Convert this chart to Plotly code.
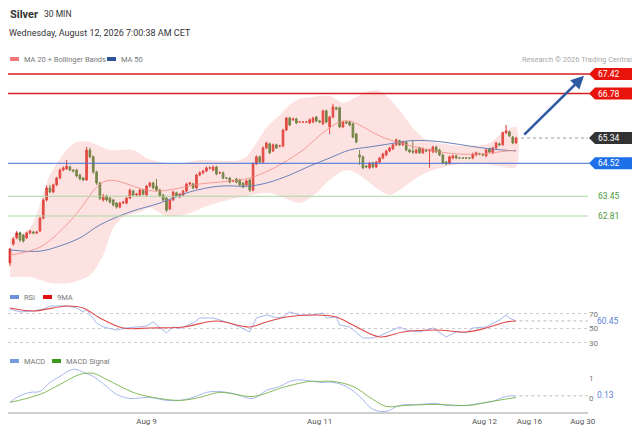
import plotly.graph_objects as go

# ---- Silver 30 MIN candles (x = bar number) ----
opens = [61.29, 61.90, 62.10, 62.26, 62.19, 62.10, 62.26, 62.29, 62.26, 62.32,
         62.74, 63.33, 63.72, 63.59, 63.82, 64.04, 64.30, 64.34, 64.40, 64.30,
         64.30, 64.14, 64.04, 63.98, 64.95, 64.73, 64.24, 63.88, 63.33, 63.46,
         63.39, 63.33, 63.23, 63.10, 63.23, 63.23, 63.39, 63.62, 63.49, 63.49,
         63.65, 63.49, 63.78, 63.88, 63.78, 63.65, 63.49, 63.39, 63.04, 63.33,
         63.56, 63.43, 63.49, 63.62, 63.85, 63.85, 63.72, 64.14, 64.21, 64.27,
         64.37, 64.30, 64.40, 64.21, 64.21, 64.04, 64.04, 63.95, 64.01, 63.98,
         63.88, 63.82, 63.98, 63.65, 64.50, 64.73, 64.56, 65.02, 65.15, 64.92,
         65.12, 65.08, 65.08, 65.60, 65.99, 65.93, 65.96, 65.86, 65.86, 65.86,
         65.83, 65.86, 66.02, 65.89, 65.80, 66.22, 65.70, 66.02, 66.32, 66.32,
         65.70, 65.86, 65.86, 65.80, 65.47, 64.79, 64.73, 64.43, 64.37, 64.53,
         64.40, 64.56, 64.69, 64.79, 64.92, 64.99, 65.12, 65.25, 65.12, 65.21,
         64.95, 64.92, 64.86, 65.02, 64.86, 64.95, 64.92, 64.89, 65.05, 64.95,
         64.79, 64.56, 64.53, 64.69, 64.76, 64.69, 64.69, 64.69, 64.69, 64.69,
         64.79, 64.82, 64.79, 64.76, 64.99, 64.86, 65.02, 65.15, 65.12, 65.51,
         65.54, 65.37, 65.18]
highs = [61.77, 62.12, 62.32, 62.30, 62.22, 62.30, 62.36, 62.33, 62.32, 62.78,
         63.38, 63.80, 63.82, 63.86, 64.08, 64.35, 64.42, 64.63, 64.45, 64.33,
         64.34, 64.18, 64.08, 65.05, 65.02, 64.78, 64.28, 63.92, 63.52, 63.50,
         63.43, 63.37, 63.26, 63.27, 63.30, 63.44, 63.70, 63.66, 63.56, 63.70,
         63.69, 63.82, 63.92, 63.92, 64.01, 63.70, 63.53, 63.43, 63.37, 63.63,
         63.60, 63.56, 63.66, 63.89, 63.92, 63.89, 64.18, 64.26, 64.31, 64.42,
         64.42, 64.45, 64.44, 64.26, 64.25, 64.08, 64.08, 63.99, 64.05, 64.02,
         63.92, 63.99, 64.02, 64.55, 64.78, 64.77, 65.07, 65.22, 65.19, 65.16,
         65.16, 65.12, 65.64, 66.03, 66.03, 66.00, 66.00, 65.88, 65.88, 65.88,
         65.97, 66.03, 66.06, 65.93, 66.26, 66.26, 66.06, 66.45, 66.36, 66.36,
         65.90, 65.90, 65.90, 65.84, 65.51, 64.95, 64.77, 64.47, 64.57, 64.57,
         64.60, 64.73, 64.86, 64.96, 65.06, 65.16, 65.32, 65.29, 65.25, 65.25,
         64.99, 65.28, 64.99, 65.06, 65.03, 64.99, 64.99, 65.09, 65.09, 64.99,
         64.83, 64.60, 64.77, 64.80, 64.80, 64.72, 64.72, 64.72, 64.72, 64.86,
         64.90, 64.86, 64.83, 64.99, 65.03, 65.06, 65.22, 65.19, 65.55, 65.76,
         65.58, 65.41, 65.38]
lows = [61.19, 61.85, 62.06, 61.97, 61.95, 62.06, 62.22, 62.22, 62.22, 62.28,
        62.70, 63.28, 63.55, 63.55, 63.78, 64.00, 64.26, 64.30, 64.26, 64.22,
        64.06, 63.97, 63.94, 63.95, 64.68, 64.18, 63.82, 63.33, 63.28, 63.28,
        63.22, 63.12, 63.05, 63.06, 63.20, 63.19, 63.35, 63.45, 63.45, 63.45,
        63.48, 63.45, 63.74, 63.68, 63.60, 63.42, 63.29, 62.94, 63.00, 63.29,
        63.42, 63.39, 63.45, 63.58, 63.81, 63.68, 63.68, 64.10, 64.17, 64.23,
        64.32, 64.26, 64.13, 64.17, 64.00, 64.00, 63.87, 63.91, 63.87, 63.78,
        63.71, 63.78, 63.59, 63.61, 64.46, 64.52, 64.52, 64.98, 64.82, 64.88,
        64.98, 65.04, 65.04, 65.56, 65.72, 65.89, 65.79, 65.84, 65.84, 65.84,
        65.79, 65.82, 65.85, 65.82, 65.76, 65.82, 65.47, 65.98, 66.24, 65.66,
        65.66, 65.79, 65.72, 65.33, 65.17, 64.47, 64.33, 64.36, 64.33, 64.36,
        64.36, 64.52, 64.65, 64.75, 64.88, 64.95, 65.08, 65.08, 65.08, 64.91,
        64.85, 64.82, 64.82, 64.82, 64.82, 64.88, 64.37, 64.85, 64.85, 64.75,
        64.49, 64.46, 64.49, 64.65, 64.65, 64.66, 64.66, 64.66, 64.66, 64.65,
        64.75, 64.78, 64.75, 64.72, 64.85, 64.82, 64.98, 65.08, 65.08, 65.47,
        65.37, 65.14, 65.14]
closes = [61.74, 62.06, 62.26, 62.03, 62.00, 62.26, 62.32, 62.26, 62.29, 62.74,
          63.33, 63.72, 63.59, 63.82, 64.04, 64.30, 64.37, 64.43, 64.30, 64.27,
          64.11, 64.01, 63.98, 64.95, 64.73, 64.24, 63.88, 63.39, 63.46, 63.33,
          63.26, 63.17, 63.10, 63.23, 63.26, 63.39, 63.65, 63.49, 63.52, 63.65,
          63.52, 63.78, 63.88, 63.72, 63.65, 63.46, 63.33, 63.00, 63.33, 63.59,
          63.46, 63.52, 63.62, 63.85, 63.88, 63.72, 64.14, 64.21, 64.27, 64.37,
          64.37, 64.40, 64.17, 64.21, 64.04, 64.04, 63.91, 63.95, 63.91, 63.82,
          63.75, 63.95, 63.65, 64.50, 64.73, 64.56, 65.02, 65.18, 64.86, 65.12,
          65.02, 65.08, 65.60, 65.99, 65.76, 65.96, 65.83, 65.86, 65.86, 65.86,
          65.93, 65.99, 65.89, 65.86, 66.22, 65.86, 66.02, 66.35, 66.28, 65.70,
          65.86, 65.83, 65.76, 65.37, 65.21, 64.73, 64.37, 64.40, 64.53, 64.40,
          64.56, 64.69, 64.82, 64.92, 65.02, 65.12, 65.28, 65.12, 65.21, 64.95,
          64.89, 64.89, 64.95, 64.86, 64.99, 64.92, 64.95, 65.05, 64.89, 64.79,
          64.53, 64.50, 64.73, 64.76, 64.69, 64.69, 64.69, 64.69, 64.69, 64.82,
          64.86, 64.82, 64.79, 64.95, 64.89, 65.02, 65.18, 65.12, 65.51, 65.57,
          65.41, 65.18, 65.34]
bars = list(range(len(closes)))

# ---- MA 20 / MA 50 / Bollinger bands (read at sample bars) ----
ma20_idx = [0, 9, 17, 22, 26, 29, 32, 37, 41, 45, 51, 57, 63, 69, 72, 78, 82, 88,
            94, 99, 102, 105, 111, 117, 123, 129, 135, 141, 147, 152]
ma20 = [61.54, 61.80, 62.52, 63.17, 63.75, 63.95, 63.95, 63.78, 63.65, 63.62,
        63.72, 63.85, 63.91, 63.98, 64.04, 64.30, 64.53, 64.95, 65.51, 65.86,
        65.89, 65.76, 65.41, 65.18, 65.02, 64.89, 64.82, 64.82, 64.89, 64.95]
ma50_idx = [0, 9, 15, 21, 27, 36, 45, 54, 63, 72, 78, 84, 90, 96, 102, 108, 114,
            120, 126, 132, 138, 144, 152]
ma50 = [61.71, 61.67, 61.84, 62.10, 62.52, 62.94, 63.23, 63.59, 63.78, 63.78,
        63.91, 64.14, 64.43, 64.69, 64.95, 65.05, 65.15, 65.25, 65.25, 65.18,
        65.08, 64.99, 64.92]
bb_up_idx = [0, 6, 12, 17, 20, 24, 30, 37, 41, 45, 50, 57, 63, 68, 71, 74, 77, 81,
             84, 87, 91, 96, 100, 104, 107, 111, 117, 121, 125, 132, 138, 144, 148, 152]
bb_up = [62.10, 62.42, 64.14, 64.95, 65.21, 65.21, 64.95, 64.95, 64.69, 64.56,
         64.50, 64.63, 64.60, 64.60, 64.73, 65.18, 65.67, 66.09, 66.41, 66.61,
         66.67, 66.71, 66.48, 66.67, 66.84, 66.87, 66.25, 65.67, 65.28, 65.12,
         65.08, 65.18, 65.51, 65.70]
bb_lo_idx = [0, 6, 12, 18, 24, 28, 31, 34, 39, 42, 47, 53, 59, 63, 71, 78, 84, 87,
             91, 96, 101, 105, 110, 114, 117, 122, 127, 132, 138, 144, 148, 152]
bb_lo = [60.83, 60.83, 60.64, 60.64, 60.89, 61.54, 62.42, 62.78, 62.94, 63.07,
         62.81, 62.87, 63.13, 63.26, 63.46, 63.56, 63.33, 63.23, 63.46, 63.98,
         64.30, 64.14, 63.72, 63.49, 63.65, 64.04, 64.30, 64.43, 64.53, 64.47,
         64.40, 64.40]

# ---- key levels ----
resistances = [67.42, 66.78]
pivot = 64.52
supports = [63.45, 62.81]
last_price = 65.34

# ---- RSI and its 9MA ----
rsi_idx = [0, 3, 7, 10, 12, 17, 20, 22, 23, 26, 28, 32, 35, 39, 41, 43, 45, 47, 49,
           51, 55, 57, 61, 65, 69, 72, 74, 77, 80, 82, 84, 87, 91, 93, 94, 95, 98,
           99, 102, 106, 109, 111, 113, 117, 119, 123, 127, 131, 134, 137, 139, 143,
           147, 149, 150, 152]
rsi = [76.9, 72.8, 74.1, 76.9, 81.0, 81.0, 78.3, 72.8, 76.0, 57.6, 52.1, 47.9, 50.7,
       52.1, 53.4, 59.0, 50.7, 43.8, 52.1, 50.0, 57.6, 64.5, 64.5, 59.0, 52.1, 45.2,
       64.5, 68.6, 65.0, 65.9, 72.8, 68.6, 68.6, 70.0, 71.4, 64.5, 65.9, 54.8, 52.1,
       36.9, 36.9, 39.7, 43.8, 52.1, 47.9, 45.2, 50.7, 38.3, 45.2, 44.0, 50.7, 52.1,
       61.7, 68.6, 64.5, 60.45]
rsi_ma_idx = [0, 7, 17, 22, 27, 34, 42, 52, 62, 72, 77, 83, 92, 98, 103, 111, 118,
              128, 137, 143, 149, 152]
rsi_ma = [78.3, 74.1, 81.0, 78.3, 64.5, 50.7, 50.7, 52.1, 60.3, 52.1, 59.0, 65.9,
          68.6, 65.9, 54.8, 38.3, 45.2, 47.9, 45.2, 50.7, 59.0, 60.3]

# ---- MACD and signal ----
macd_idx = [0, 2, 6, 9, 12, 15, 18, 20, 22, 25, 29, 32, 36, 42, 47, 51, 55, 59, 62,
            67, 73, 77, 81, 85, 89, 93, 97, 101, 105, 109, 113, 117, 123, 128, 131,
            137, 141, 145, 149, 152]
macd = [-0.20, 0.05, 0.30, 0.35, 0.80, 1.10, 1.40, 1.45, 1.30, 1.10, 0.60, 0.20,
        0.00, 0.05, -0.10, -0.10, 0.05, 0.30, 0.35, 0.25, 0.00, 0.40, 0.60, 0.90,
        0.90, 0.80, 0.80, 0.60, 0.10, -0.55, -0.65, -0.35, -0.30, -0.25, -0.35,
        -0.35, -0.25, -0.15, 0.10, 0.13]
signal_idx = [0, 9, 15, 21, 25, 29, 37, 43, 51, 57, 63, 73, 82, 90, 93, 97, 103,
              109, 113, 119, 128, 138, 143, 152]
signal = [-0.20, 0.20, 0.70, 1.20, 1.25, 0.95, 0.30, 0.05, -0.10, 0.05, 0.30, 0.10,
          0.55, 0.85, 0.85, 0.85, 0.60, -0.05, -0.40, -0.35, -0.30, -0.35, -0.20, 0.05]

tick_idx = [41, 93, 142.5, 156, 172]
tick_text = ['Aug 9', 'Aug 11', 'Aug 12', 'Aug 16', 'Aug 30']

FONT = 'Roboto'
RED = '#d9261c'
GREEN = '#3d7a22'

# page has an 8px body margin; plot area spans page x 8..588 and y 8..412


def px_x(px):
    return (px - 8) / 580


def px_y(py):
    return (412 - py) / 404


fig = go.Figure()

# Bollinger band area
fig.add_trace(go.Scatter(
    x=bb_up_idx + bb_lo_idx[::-1], y=bb_up + bb_lo[::-1],
    fill='toself', fillcolor='rgba(250,160,160,0.30)',
    line=dict(width=0, shape='spline', smoothing=0.8),
    mode='lines', hoverinfo='skip', yaxis='y'))

fig.add_trace(go.Scatter(x=ma50_idx, y=ma50, mode='lines', yaxis='y',
                         line=dict(color='#6a82b8', width=1, shape='spline')))
fig.add_trace(go.Scatter(x=ma20_idx, y=ma20, mode='lines', yaxis='y',
                         line=dict(color='#f08a80', width=0.8, shape='spline')))

fig.add_trace(go.Candlestick(
    x=bars, open=opens, high=highs, low=lows, close=closes, yaxis='y',
    increasing=dict(line=dict(color=RED, width=1), fillcolor=RED),
    decreasing=dict(line=dict(color=GREEN, width=1), fillcolor=GREEN),
    whiskerwidth=0))

# RSI panel
fig.add_trace(go.Scatter(x=rsi_idx, y=rsi, mode='lines', yaxis='y2',
                         line=dict(color='#8ea6e8', width=0.8)))
fig.add_trace(go.Scatter(x=rsi_ma_idx, y=rsi_ma, mode='lines', yaxis='y2',
                         line=dict(color='#e04848', width=1.1, shape='spline')))

# MACD panel
fig.add_trace(go.Scatter(x=macd_idx, y=macd, mode='lines', yaxis='y3',
                         line=dict(color='#9cb0ec', width=0.9, shape='spline')))
fig.add_trace(go.Scatter(x=signal_idx, y=signal, mode='lines', yaxis='y3',
                         line=dict(color='#78b24a', width=0.9, shape='spline')))

shapes = []
annotations = []

# level lines
for lvl in resistances:
    shapes.append(dict(type='line', xref='paper', yref='y', x0=0, x1=1.003, y0=lvl, y1=lvl,
                       line=dict(color='#d42020', width=1.5)))
shapes.append(dict(type='line', xref='paper', yref='y', x0=0, x1=1.003, y0=pivot, y1=pivot,
                   line=dict(color='#3f6fd6', width=1)))
for lvl in supports:
    shapes.append(dict(type='line', xref='paper', yref='y', x0=0, x1=1, y0=lvl, y1=lvl,
                       line=dict(color='#a9d9a2', width=1)))
shapes.append(dict(type='line', xref='x', yref='y', x0=len(closes) + 0.5, x1=173.6,
                   y0=last_price, y1=last_price, line=dict(color='#999', width=1, dash='dot')))

# price tags on the right
half = 6 / 30.8
tags = [(resistances[0], '#e8140c'), (resistances[1], '#e8140c'),
        (last_price, '#333333'), (pivot, '#1f6fe8')]
for lvl, col in tags:
    path = 'M {a} {y} L {b} {t} L {c} {t} L {c} {bt} L {b} {bt} Z'.format(
        a=px_x(589), b=px_x(595), c=px_x(641), y=lvl, t=lvl + half, bt=lvl - half)
    shapes.append(dict(type='path', xref='paper', yref='y', path=path,
                       fillcolor=col, line=dict(width=0)))
    annotations.append(dict(xref='paper', yref='y', x=px_x(596), y=lvl, text='%.2f' % lvl,
                            showarrow=False, xanchor='left', yanchor='middle',
                            font=dict(family=FONT, size=8.5, color='white')))
for lvl in supports:
    annotations.append(dict(xref='paper', yref='y', x=px_x(596), y=lvl, text='%.2f' % lvl,
                            showarrow=False, xanchor='left', yanchor='middle',
                            font=dict(family=FONT, size=8.5, color='#4e9a3a')))

# forecast arrow
annotations.append(dict(x=172.4, y=resistances[0] - 0.06, xref='x', yref='y',
                        ax=len(closes) + 1, ay=last_price + 0.06, axref='x', ayref='y',
                        showarrow=True, arrowhead=2, arrowsize=1, arrowwidth=2.6,
                        arrowcolor='#2f5aa2', text=''))

# RSI last value
rsi_last = rsi[-1]
shapes.append(dict(type='line', xref='x', yref='y2', x0=len(closes), x1=173.6,
                   y0=rsi_last, y1=rsi_last, line=dict(color='#bbb', width=1, dash='dot')))
annotations.append(dict(xref='paper', yref='y2', x=px_x(595), y=rsi_last, text='%.2f' % rsi_last,
                        showarrow=False, xanchor='left', yanchor='middle',
                        font=dict(family=FONT, size=8.5, color='#5b7fd6')))

# MACD last value
macd_last = macd[-1]
shapes.append(dict(type='line', xref='x', yref='y3', x0=len(closes), x1=173.6,
                   y0=macd_last, y1=macd_last, line=dict(color='#bbb', width=1, dash='dot')))
annotations.append(dict(xref='paper', yref='y3', x=px_x(595), y=macd_last + 0.05,
                        text='%.2f' % macd_last, showarrow=False, xanchor='left',
                        yanchor='middle',
                        font=dict(family=FONT, size=8.5, color='#5b7fd6')))

# titles
annotations += [
    dict(xref='paper', yref='paper', x=px_x(8), y=px_y(14), text='<b>Silver</b>',
         showarrow=False, xanchor='left', yanchor='middle',
         font=dict(family=FONT, size=11, color='#333')),
    dict(xref='paper', yref='paper', x=px_x(42), y=px_y(14), text='30 MIN',
         showarrow=False, xanchor='left', yanchor='middle',
         font=dict(family=FONT, size=8.5, color='#333')),
    dict(xref='paper', yref='paper', x=px_x(7), y=px_y(33),
         text='Wednesday, August 12, 2026 7:00:38 AM CET',
         showarrow=False, xanchor='left', yanchor='middle',
         font=dict(family=FONT, size=9, color='#333')),
    dict(xref='paper', yref='paper', x=px_x(634), y=px_y(59),
         text='Research © 2026 Trading Central',
         showarrow=False, xanchor='right', yanchor='middle',
         font=dict(family=FONT, size=7.5, color='#aaa')),
]

# legends (small swatch + label)
legend_items = [
    (10, 59, '#f07878', 'MA 20 + Bollinger Bands'),
    (107, 59, '#2f5597', 'MA 50'),
    (10, 297, '#6f8fdc', 'RSI'),
    (43, 297, '#dd1111', '9MA'),
    (10, 361, '#7b9be0', 'MACD'),
    (52, 361, '#3a9a1a', 'MACD Signal'),
]
for lx, ly, col, label in legend_items:
    shapes.append(dict(type='rect', xref='paper', yref='paper',
                       x0=px_x(lx), x1=px_x(lx + 9), y0=px_y(ly + 2), y1=px_y(ly - 2),
                       fillcolor=col, line=dict(width=0)))
    annotations.append(dict(xref='paper', yref='paper', x=px_x(lx + 12), y=px_y(ly),
                            text=label, showarrow=False, xanchor='left', yanchor='middle',
                            font=dict(family=FONT, size=7.5, color='#777')))

fig.update_layout(
    width=632, height=417,
    margin=dict(l=0, r=52, t=0, b=13),
    paper_bgcolor='white', plot_bgcolor='white',
    showlegend=False,
    font=dict(family=FONT),
    xaxis=dict(range=[-0.6, 173.6], anchor='y3', showgrid=False, zeroline=False,
               showline=True, linecolor='#cfcfcf', linewidth=2,
               tickvals=tick_idx, ticktext=tick_text, ticks='',
               tickfont=dict(size=8, color='#555'), rangeslider=dict(visible=False)),
    yaxis=dict(domain=[px_y(290), px_y(52)], range=[60.41, 68.13], anchor='x',
               showticklabels=False, showgrid=False, zeroline=False),
    yaxis2=dict(domain=[px_y(350), px_y(300)], range=[20.3, 89.3], anchor='x',
                side='right', tickvals=[30, 50, 70], showgrid=True, griddash='dot',
                gridcolor='#cfcfcf', zeroline=False, ticks='',
                tickfont=dict(size=8, color='#777')),
    yaxis3=dict(domain=[0, px_y(360)], range=[-0.68, 1.92], anchor='x',
                side='right', tickvals=[0, 1], showgrid=False, zeroline=False, ticks='',
                tickfont=dict(size=8, color='#777')),
    shapes=shapes,
    annotations=annotations,
)

fig.write_html("out.html")
